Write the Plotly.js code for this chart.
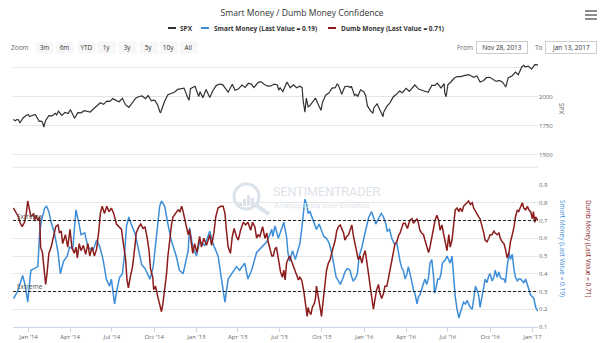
<!DOCTYPE html>
<html>
<head>
<meta charset="utf-8">
<script src="https://cdn.plot.ly/plotly-3.0.1.min.js"></script>
<style>
html,body{margin:0;padding:0;background:#fff;}
#chart{width:600px;height:343px;}
</style>
</head>
<body>
<div id="chart"></div>
<script>
// ---------------- DATA ----------------
const spxDates = [
"2013-11-28","2013-12-03","2013-12-06","2013-12-10","2013-12-13","2013-12-18","2013-12-20","2013-12-27","2013-12-31",
"2014-01-03","2014-01-08","2014-01-10","2014-01-15","2014-01-17","2014-01-24","2014-01-28","2014-01-31","2014-02-03","2014-02-07",
"2014-02-14","2014-02-21","2014-02-28","2014-03-03","2014-03-07","2014-03-14","2014-03-21","2014-03-28","2014-04-02","2014-04-07",
"2014-04-11","2014-04-18","2014-04-25","2014-05-02","2014-05-09","2014-05-15","2014-05-23","2014-05-30","2014-06-06","2014-06-13",
"2014-06-20","2014-06-27","2014-07-03","2014-07-11","2014-07-17","2014-07-24","2014-07-31","2014-08-07","2014-08-15","2014-08-22",
"2014-08-29","2014-09-05","2014-09-12","2014-09-18","2014-09-25","2014-09-30","2014-10-03","2014-10-09","2014-10-13","2014-10-15",
"2014-10-17","2014-10-24","2014-10-31","2014-11-07","2014-11-14","2014-11-21","2014-11-28","2014-12-05","2014-12-12","2014-12-16",
"2014-12-19","2014-12-29","2015-01-06","2015-01-09","2015-01-15","2015-01-22","2015-01-30","2015-02-06","2015-02-13","2015-02-20",
"2015-02-27","2015-03-06","2015-03-11","2015-03-20","2015-03-26","2015-04-02","2015-04-10","2015-04-17","2015-04-24","2015-05-01",
"2015-05-06","2015-05-15","2015-05-21","2015-05-29","2015-06-05","2015-06-12","2015-06-19","2015-06-26","2015-06-29","2015-07-02",
"2015-07-08","2015-07-17","2015-07-24","2015-07-31","2015-08-07","2015-08-14","2015-08-19","2015-08-21","2015-08-24","2015-08-25",
"2015-08-28","2015-09-01","2015-09-04","2015-09-11","2015-09-17","2015-09-22","2015-09-29","2015-10-02","2015-10-09","2015-10-16",
"2015-10-23","2015-10-30","2015-11-03","2015-11-06","2015-11-13","2015-11-20","2015-11-27","2015-12-02","2015-12-04","2015-12-11",
"2015-12-14","2015-12-18","2015-12-24","2015-12-31","2016-01-04","2016-01-08","2016-01-13","2016-01-15","2016-01-20","2016-01-22",
"2016-01-29","2016-02-05","2016-02-11","2016-02-12","2016-02-19","2016-02-26","2016-03-04","2016-03-11","2016-03-18","2016-03-24",
"2016-04-01","2016-04-08","2016-04-15","2016-04-20","2016-04-29","2016-05-06","2016-05-13","2016-05-19","2016-05-27","2016-06-03",
"2016-06-08","2016-06-16","2016-06-23","2016-06-24","2016-06-27","2016-07-01","2016-07-08","2016-07-15","2016-07-22","2016-07-29",
"2016-08-05","2016-08-15","2016-08-19","2016-08-26","2016-09-02","2016-09-09","2016-09-16","2016-09-23","2016-09-30","2016-10-07",
"2016-10-14","2016-10-21","2016-10-28","2016-11-04","2016-11-09","2016-11-18","2016-11-25","2016-12-01","2016-12-09","2016-12-13",
"2016-12-16","2016-12-23","2016-12-30","2017-01-06","2017-01-13"];
const spxValues = [
1806,1795,1805,1803,1775,1811,1818,1842,1848,
1831,1837,1842,1848,1838,1790,1792,1783,1741,1797,
1838,1836,1859,1845,1878,1841,1866,1857,1890,1845,
1816,1864,1863,1881,1878,1870,1900,1924,1950,1936,
1963,1961,1985,1968,1958,1988,1931,1910,1955,1988,
2003,2008,1985,2011,1966,1972,1968,1928,1874,1862,
1887,1965,2018,2032,2039,2064,2068,2075,2003,1972,
2071,2091,2003,2045,1993,2063,1995,2055,2097,2110,
2105,2071,2040,2108,2057,2067,2102,2081,2117,2108,
2080,2123,2131,2107,2092,2094,2110,2102,2058,2077,
2046,2127,2079,2104,2078,2092,2079,1971,1893,1868,
1989,1914,1921,1962,1990,1943,1884,1951,2014,2033,
2075,2079,2110,2099,2023,2089,2090,2080,2092,2012,
2022,2005,2061,2044,2013,1922,1890,1880,1859,1907,
1940,1880,1829,1865,1918,1948,1999,2022,2050,2036,
2073,2048,2081,2102,2065,2057,2047,2040,2099,2099,
2119,2077,2113,2037,2001,2103,2130,2162,2175,2174,
2183,2191,2184,2169,2180,2128,2139,2165,2168,2153,
2133,2141,2126,2085,2163,2182,2213,2191,2260,2272,
2258,2264,2239,2277,2275];

const smartDates = [
"2013-11-29","2013-12-08","2013-12-19","2013-12-25","2013-12-30","2014-01-06","2014-01-14","2014-01-21","2014-01-25","2014-01-29",
"2014-02-05","2014-02-09","2014-02-14","2014-02-19","2014-02-26","2014-03-06","2014-03-11","2014-03-18","2014-03-26","2014-03-31",
"2014-04-07","2014-04-14","2014-04-20","2014-04-25","2014-05-03","2014-05-10","2014-05-21","2014-05-29","2014-06-05","2014-06-12",
"2014-06-19","2014-06-26","2014-06-30","2014-07-05","2014-07-07","2014-07-12","2014-07-18","2014-07-24","2014-07-29","2014-08-02",
"2014-08-07","2014-08-12","2014-08-20","2014-08-27","2014-09-04","2014-09-11","2014-09-22","2014-09-29","2014-10-06","2014-10-13",
"2014-10-17","2014-10-24","2014-10-31","2014-11-07","2014-11-18","2014-11-25","2014-12-03","2014-12-14","2014-12-17","2014-12-24",
"2015-01-01","2015-01-08","2015-01-19","2015-01-30","2015-02-06","2015-02-17","2015-02-24","2015-03-04","2015-03-11","2015-03-18",
"2015-03-29","2015-04-05","2015-04-16","2015-04-23","2015-05-01","2015-05-12","2015-05-23","2015-06-03","2015-06-14","2015-06-16",
"2015-06-21","2015-06-28","2015-07-05","2015-07-10","2015-07-16","2015-07-19","2015-07-23","2015-07-29","2015-08-04","2015-08-09",
"2015-08-14","2015-08-18","2015-08-22","2015-08-25","2015-08-29","2015-09-01","2015-09-05","2015-09-09","2015-09-14","2015-09-19",
"2015-09-25","2015-09-30","2015-10-05","2015-10-11","2015-10-17","2015-10-22","2015-10-25","2015-11-01","2015-11-06","2015-11-10",
"2015-11-15","2015-11-20","2015-11-25","2015-12-01","2015-12-05","2015-12-08","2015-12-12","2015-12-17","2015-12-21","2015-12-27",
"2016-01-01","2016-01-06","2016-01-11","2016-01-17","2016-01-22","2016-01-26","2016-02-01","2016-02-07","2016-02-12","2016-02-17",
"2016-02-20","2016-02-25","2016-03-01","2016-03-06","2016-03-12","2016-03-15","2016-03-19","2016-03-23","2016-03-26","2016-03-30",
"2016-04-03","2016-04-06","2016-04-10","2016-04-14","2016-04-17","2016-04-21","2016-04-25","2016-04-28","2016-05-01","2016-05-05",
"2016-05-09","2016-05-12","2016-05-16","2016-05-20","2016-05-23","2016-05-27","2016-05-31","2016-06-02","2016-06-06","2016-06-09",
"2016-06-13","2016-06-16","2016-06-19","2016-06-26","2016-06-29","2016-07-03","2016-07-06","2016-07-10","2016-07-14","2016-07-17",
"2016-07-21","2016-07-25","2016-07-28","2016-08-01","2016-08-04","2016-08-08","2016-08-12","2016-08-15","2016-08-19","2016-08-23",
"2016-08-26","2016-08-30","2016-09-02","2016-09-06","2016-09-09","2016-09-13","2016-09-17","2016-09-20","2016-09-24","2016-09-28",
"2016-10-01","2016-10-05","2016-10-09","2016-10-12","2016-10-16","2016-10-20","2016-10-23","2016-10-27","2016-10-31","2016-11-03",
"2016-11-07","2016-11-11","2016-11-14","2016-11-18","2016-11-22","2016-11-25","2016-11-29","2016-12-02","2016-12-06","2016-12-10",
"2016-12-13","2016-12-17","2016-12-21","2016-12-24","2016-12-28","2017-01-01","2017-01-04","2017-01-08","2017-01-13"];
const smartValues = [
0.26,0.30,0.39,0.33,0.24,0.42,0.43,0.44,0.63,0.70,
0.77,0.78,0.75,0.69,0.63,0.52,0.40,0.47,0.50,0.55,
0.54,0.76,0.69,0.62,0.63,0.55,0.53,0.59,0.55,0.48,
0.37,0.33,0.37,0.28,0.23,0.31,0.38,0.40,0.52,0.67,
0.72,0.68,0.63,0.55,0.45,0.43,0.37,0.44,0.61,0.78,
0.81,0.78,0.68,0.59,0.50,0.42,0.40,0.53,0.66,0.55,
0.50,0.58,0.56,0.64,0.57,0.50,0.38,0.24,0.37,0.40,
0.44,0.42,0.46,0.37,0.42,0.52,0.55,0.58,0.65,0.61,
0.67,0.60,0.65,0.69,0.61,0.52,0.47,0.53,0.48,0.52,
0.57,0.65,0.76,0.82,0.79,0.74,0.75,0.72,0.68,0.65,
0.68,0.65,0.61,0.60,0.57,0.52,0.48,0.38,0.36,0.34,
0.37,0.41,0.43,0.42,0.38,0.36,0.37,0.40,0.50,0.55,
0.61,0.67,0.72,0.75,0.71,0.68,0.71,0.74,0.72,0.68,
0.64,0.65,0.60,0.57,0.57,0.52,0.47,0.43,0.42,0.37,
0.40,0.44,0.40,0.35,0.31,0.28,0.23,0.27,0.28,0.31,
0.35,0.37,0.34,0.38,0.46,0.48,0.38,0.29,0.33,0.37,
0.37,0.40,0.46,0.48,0.50,0.48,0.46,0.50,0.38,0.27,
0.20,0.15,0.18,0.22,0.24,0.23,0.25,0.23,0.21,0.20,
0.27,0.33,0.31,0.28,0.21,0.27,0.34,0.37,0.35,0.39,
0.40,0.36,0.38,0.42,0.38,0.41,0.38,0.37,0.37,0.35,
0.44,0.52,0.48,0.51,0.42,0.38,0.36,0.37,0.37,0.36,
0.35,0.37,0.34,0.31,0.28,0.27,0.26,0.21,0.19];

const dumbDates = [
"2013-11-29","2013-12-06","2013-12-10","2013-12-13","2013-12-18","2013-12-23","2013-12-27","2013-12-30","2014-01-03","2014-01-06",
"2014-01-12","2014-01-14","2014-01-17","2014-01-21","2014-01-25","2014-01-27","2014-01-31","2014-02-05","2014-02-07","2014-02-10",
"2014-02-14","2014-02-19","2014-02-24","2014-03-01","2014-03-06","2014-03-09","2014-03-13","2014-03-16","2014-03-22","2014-03-27",
"2014-04-01","2014-04-05","2014-04-10","2014-04-14","2014-04-17","2014-04-21","2014-04-25","2014-04-30","2014-05-05","2014-05-10",
"2014-05-14","2014-05-19","2014-05-24","2014-05-29","2014-06-03","2014-06-06","2014-06-10","2014-06-15","2014-06-20","2014-06-25",
"2014-06-30","2014-07-05","2014-07-11","2014-07-16","2014-07-22","2014-07-25","2014-07-31","2014-08-03","2014-08-06","2014-08-10",
"2014-08-15","2014-08-20","2014-08-23","2014-08-29","2014-09-02","2014-09-07","2014-09-11","2014-09-16","2014-09-20","2014-09-23",
"2014-09-28","2014-09-30","2014-10-04","2014-10-09","2014-10-14","2014-10-17","2014-10-20","2014-10-24","2014-10-28","2014-10-31",
"2014-11-04","2014-11-08","2014-11-11","2014-11-17","2014-11-22","2014-11-26","2014-11-30","2014-12-03","2014-12-09","2014-12-14",
"2014-12-17","2014-12-21","2014-12-24","2014-12-28","2015-01-02","2015-01-08","2015-01-12","2015-01-17","2015-01-23","2015-01-30",
"2015-02-03","2015-02-08","2015-02-12","2015-02-17","2015-02-23","2015-02-28","2015-03-04","2015-03-07","2015-03-11","2015-03-16",
"2015-03-20","2015-03-24","2015-03-29","2015-04-02","2015-04-07","2015-04-13","2015-04-18","2015-04-23","2015-04-29","2015-05-03",
"2015-05-08","2015-05-12","2015-05-15","2015-05-19","2015-05-25","2015-05-30","2015-06-03","2015-06-06","2015-06-10","2015-06-14",
"2015-06-17","2015-06-21","2015-06-24","2015-06-28","2015-07-03","2015-07-07","2015-07-10","2015-07-13","2015-07-16","2015-07-19",
"2015-07-23","2015-07-27","2015-07-30","2015-08-04","2015-08-07","2015-08-11","2015-08-14","2015-08-18","2015-08-22","2015-08-25",
"2015-08-27","2015-08-30","2015-09-01","2015-09-03","2015-09-07","2015-09-10","2015-09-14","2015-09-17","2015-09-19","2015-09-23",
"2015-09-27","2015-09-30","2015-10-04","2015-10-08","2015-10-11","2015-10-15","2015-10-19","2015-10-22","2015-10-26","2015-10-30",
"2015-11-02","2015-11-06","2015-11-10","2015-11-13","2015-11-17","2015-11-20","2015-11-24","2015-11-28","2015-12-01","2015-12-05",
"2015-12-08","2015-12-12","2015-12-16","2015-12-19","2015-12-23","2015-12-27","2015-12-30","2016-01-03","2016-01-06","2016-01-10",
"2016-01-13","2016-01-17","2016-01-21","2016-01-24","2016-01-28","2016-02-01","2016-02-04","2016-02-08","2016-02-12","2016-02-15",
"2016-02-19","2016-02-22","2016-02-26","2016-03-01","2016-03-04","2016-03-08","2016-03-12","2016-03-15","2016-03-19","2016-03-23",
"2016-03-26","2016-03-30","2016-04-04","2016-04-09","2016-04-14","2016-04-17","2016-04-21","2016-04-25","2016-04-28","2016-05-01",
"2016-05-05","2016-05-09","2016-05-12","2016-05-16","2016-05-20","2016-05-23","2016-05-27","2016-05-31","2016-06-03","2016-06-07",
"2016-06-11","2016-06-14","2016-06-18","2016-06-22","2016-06-25","2016-06-29","2016-07-03","2016-07-06","2016-07-10","2016-07-14",
"2016-07-17","2016-07-21","2016-07-25","2016-07-28","2016-08-01","2016-08-04","2016-08-08","2016-08-12","2016-08-15","2016-08-19",
"2016-08-23","2016-08-26","2016-08-30","2016-09-02","2016-09-06","2016-09-09","2016-09-13","2016-09-17","2016-09-20","2016-09-24",
"2016-09-28","2016-10-01","2016-10-05","2016-10-09","2016-10-12","2016-10-16","2016-10-20","2016-10-23","2016-10-27","2016-10-31",
"2016-11-03","2016-11-07","2016-11-11","2016-11-14","2016-11-18","2016-11-22","2016-11-25","2016-11-29","2016-12-02","2016-12-06",
"2016-12-10","2016-12-13","2016-12-17","2016-12-21","2016-12-24","2016-12-28","2017-01-01","2017-01-03","2017-01-06","2017-01-08",
"2017-01-12","2017-01-13"];
const dumbValues = [
0.77,0.74,0.72,0.69,0.665,0.69,0.74,0.81,0.76,0.72,
0.74,0.70,0.73,0.70,0.72,0.55,0.52,0.40,0.34,0.40,
0.515,0.55,0.61,0.665,0.675,0.63,0.64,0.57,0.62,0.55,
0.65,0.55,0.515,0.55,0.49,0.57,0.53,0.56,0.51,0.57,
0.50,0.55,0.50,0.54,0.65,0.74,0.78,0.74,0.78,0.75,
0.77,0.74,0.68,0.665,0.65,0.59,0.48,0.365,0.32,0.38,
0.44,0.55,0.63,0.665,0.68,0.655,0.665,0.60,0.53,0.43,
0.38,0.31,0.33,0.27,0.205,0.186,0.23,0.31,0.40,0.50,
0.61,0.68,0.72,0.74,0.76,0.75,0.78,0.75,0.68,0.62,
0.65,0.57,0.515,0.57,0.52,0.61,0.55,0.60,0.56,0.62,
0.56,0.63,0.72,0.77,0.78,0.78,0.74,0.65,0.55,0.515,
0.61,0.655,0.61,0.59,0.645,0.69,0.675,0.69,0.645,0.69,
0.665,0.60,0.62,0.61,0.665,0.60,0.63,0.58,0.53,0.50,
0.50,0.54,0.55,0.48,0.41,0.38,0.42,0.365,0.46,0.48,
0.50,0.47,0.45,0.41,0.40,0.365,0.38,0.365,0.31,0.25,
0.21,0.16,0.21,0.19,0.17,0.21,0.23,0.26,0.33,0.28,
0.21,0.16,0.27,0.365,0.42,0.46,0.48,0.515,0.55,0.59,
0.64,0.665,0.675,0.655,0.63,0.59,0.61,0.62,0.645,0.675,
0.62,0.57,0.53,0.48,0.50,0.46,0.50,0.53,0.48,0.40,
0.33,0.27,0.20,0.25,0.31,0.34,0.29,0.26,0.29,0.33,
0.33,0.365,0.42,0.48,0.53,0.57,0.58,0.61,0.63,0.665,
0.684,0.684,0.655,0.70,0.71,0.684,0.70,0.71,0.684,0.645,
0.63,0.62,0.59,0.56,0.52,0.55,0.61,0.655,0.70,0.73,
0.70,0.645,0.675,0.62,0.57,0.53,0.62,0.55,0.59,0.70,
0.76,0.77,0.75,0.77,0.75,0.78,0.79,0.80,0.81,0.79,
0.80,0.77,0.75,0.74,0.72,0.71,0.675,0.63,0.59,0.58,
0.60,0.62,0.62,0.64,0.63,0.62,0.63,0.60,0.58,0.57,
0.54,0.49,0.52,0.58,0.62,0.665,0.72,0.76,0.75,0.78,
0.80,0.77,0.76,0.78,0.76,0.75,0.71,0.75,0.69,0.72,
0.70,0.71];

const xTickVals = ["2014-01-01","2014-04-01","2014-07-01","2014-10-01","2015-01-01","2015-04-01","2015-07-01","2015-10-01",
                   "2016-01-01","2016-04-01","2016-07-01","2016-10-01","2017-01-01"];
const spxTickVals = [1500,1750,2000,2250];
const spxTickText = ["1500","1750","2000",""];
const extremeLevels = [0.7, 0.3];
const zoomButtons = ["3m","6m","YTD","1y","3y","5y","10y","All"];
const seriesNames = ["SPX","Smart Money (Last Value = 0.19)","Dumb Money (Last Value = 0.71)"];

// ---------------- LAYOUT HELPERS ----------------
const W=600,H=343,ML=13,MR=62,MT=62,MB=16;
const PW=W-ML-MR, PH=H-MT-MB;
const px = x => (x-ML)/PW;
const py = y => (H-MB-y)/PH;
const FONT = "Open Sans, Liberation Sans, sans-serif";
const C_SPX="#333333", C_SMART="#3d8ed8", C_DUMB="#8c1c1c";

function txt(text,x,y,size,color,extra){
  return Object.assign({text:text,x:px(x),y:py(y),xref:"paper",yref:"paper",showarrow:false,
    font:{size:size,color:color,family:FONT},xanchor:"left",yanchor:"middle"},extra||{});
}
function hline(x0,x1,y,color,width){
  return {type:"line",xref:"paper",yref:"paper",x0:px(x0),x1:px(x1),y0:py(y),y1:py(y),
    line:{color:color,width:width}};
}

const annotations = [];
const shapes = [];

// custom legend
const legendItems = [
  {name:seriesNames[0],color:C_SPX,sx:168,tx:178},
  {name:seriesNames[1],color:C_SMART,sx:201,tx:212},
  {name:seriesNames[2],color:C_DUMB,sx:328,tx:339}
];
legendItems.forEach(it=>{
  shapes.push(hline(it.sx,it.sx+8,28,it.color,2));
  annotations.push(txt("<b>"+it.name+"</b>",it.tx,28,6.5,"#333"));
});

// Range selector row
annotations.push(txt("Zoom",9,47,6.5,"#666"));
const btnX=[44,64,86,106,127,148,168,188];
zoomButtons.forEach((b,i)=>{
  annotations.push(txt(b,btnX[i],47,6.5,"#333",{xanchor:"center",bgcolor:"#f7f7f7",width:17,height:11,borderpad:0}));
});
annotations.push(txt("From",455,47,6.5,"#666"));
annotations.push(txt("Nov 28, 2013",502,47.5,6.5,"#333",{xanchor:"center",width:50,height:11,bordercolor:"#cccccc",borderwidth:1,bgcolor:"#fff",borderpad:0}));
annotations.push(txt("To",533,47,6.5,"#666"));
annotations.push(txt("Jan 13, 2017",571,47.5,6.5,"#333",{xanchor:"center",width:50,height:11,bordercolor:"#cccccc",borderwidth:1,bgcolor:"#fff",borderpad:0}));

// hamburger
[11,15,19].forEach(y=>shapes.push(hline(585,597,y,"#666",1.5)));

// axis titles
annotations.push(txt("SPX",562,108,6.5,"#666",{xanchor:"center",textangle:90}));
annotations.push(txt(seriesNames[1],563,248,6.5,C_SMART,{xanchor:"center",textangle:90}));
annotations.push(txt(seriesNames[2],589,248,6.5,C_DUMB,{xanchor:"center",textangle:90}));

// extreme labels
annotations.push(txt("Extreme",15,216,6.5,"#555"));
annotations.push(txt("Extreme",15,286.5,6.5,"#555"));

// watermark
const WM="#dbe2ea";
shapes.push({type:"circle",xref:"paper",yref:"paper",x0:px(234),x1:px(259),y0:py(209),y1:py(184),line:{color:WM,width:3}});
shapes.push({type:"line",xref:"paper",yref:"paper",x0:px(257),x1:px(269),y0:py(206),y1:py(214),line:{color:WM,width:4}});
[[239,203],[243,199],[247,195],[251,198]].forEach(b=>{
  shapes.push({type:"rect",xref:"paper",yref:"paper",x0:px(b[0]),x1:px(b[0]+3),y0:py(206),y1:py(b[1]),fillcolor:WM,line:{width:0}});
});
annotations.push(txt("SENTIMENTRADER",271,191.5,12.5,"#dce3ea",{font:{size:12.5,color:"#dce3ea",family:"Roboto, sans-serif"}}));
annotations.push(txt("Analyze Data over Emotion",272,205.5,8,"#e0e6ed",{font:{size:8,color:"#e0e6ed",family:"Roboto, sans-serif"}}));

// bottom border of top panel
shapes.push(hline(ML,W-MR,167.3,"#e6e6e6",1));

// extreme dashed lines
extremeLevels.forEach(v=>{
  shapes.push({type:"line",xref:"x domain",yref:"y2",x0:0,x1:1,y0:v,y1:v,line:{color:"#222",width:1,dash:"3px,2px"},layer:"above"});
});

const traces = [
  {x:spxDates,y:spxValues,type:"scatter",mode:"lines",name:seriesNames[0],xaxis:"x",yaxis:"y",line:{color:C_SPX,width:1.2}},
  {x:smartDates,y:smartValues,type:"scatter",mode:"lines",name:seriesNames[1],xaxis:"x",yaxis:"y2",line:{color:C_SMART,width:1.5}},
  {x:dumbDates,y:dumbValues,type:"scatter",mode:"lines",name:seriesNames[2],xaxis:"x",yaxis:"y2",line:{color:C_DUMB,width:1.5}}
];

const layout = {
  width:W,height:H,
  margin:{l:ML,r:MR,t:MT,b:MB,pad:0},
  paper_bgcolor:"#fff",plot_bgcolor:"#fff",
  font:{family:FONT,color:"#666"},
  showlegend:false,
  title:{text:"Smart Money / Dumb Money Confidence",x:302/W,xanchor:"center",y:1-13/H,yanchor:"middle",
         font:{size:8.6,color:"#333",family:FONT}},
  xaxis:{type:"date",anchor:"y2",range:["2013-11-28","2017-01-13"],tickvals:xTickVals,tickformat:"%b '%y",
         ticks:"outside",ticklen:4,tickcolor:"#ccd6eb",showline:true,linecolor:"#ccd6eb",linewidth:1,
         showgrid:false,zeroline:false,tickfont:{size:6,color:"#666"}},
  yaxis:{domain:[py(167.3),1],range:[1394,2300],side:"right",anchor:"x",tickvals:spxTickVals,ticktext:spxTickText,
         gridcolor:"#e6e6e6",gridwidth:1,zeroline:false,showline:false,ticks:"",tickfont:{size:6,color:"#666"}},
  yaxis2:{domain:[0,py(185)],range:[0.1,0.9],side:"right",anchor:"x",tick0:0.1,dtick:0.1,tickformat:".1f",
         gridcolor:"#e6e6e6",gridwidth:1,zeroline:false,showline:false,ticks:"",tickfont:{size:6,color:"#666"}},
  annotations:annotations,
  shapes:shapes
};

Plotly.newPlot("chart",traces,layout,{displayModeBar:false,staticPlot:true});
</script>
</body>
</html>
